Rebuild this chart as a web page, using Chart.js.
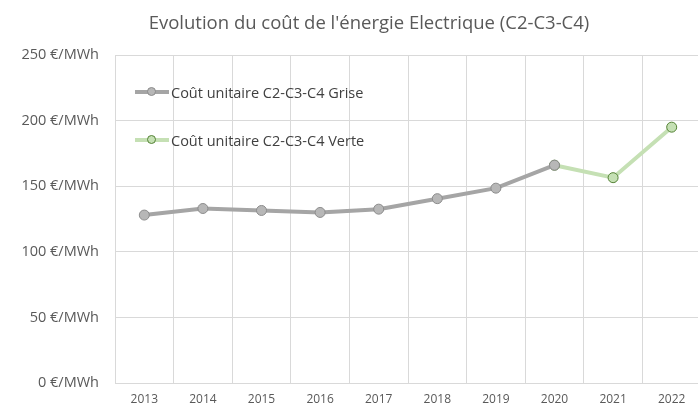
<!DOCTYPE html>
<html>
<head>
<meta charset="utf-8">
<script src="https://cdn.jsdelivr.net/npm/chart.js@4.4.0/dist/chart.umd.min.js"></script>
<style>
  html, body { margin: 0; padding: 0; background: #fff; }
  #wrap { position: relative; width: 698px; height: 409px; overflow: hidden; }
  #title { position: absolute; left: 0; top: 9px; width: 738px; text-align: center; font-family: "Open Sans", sans-serif; font-size: 18.5px; color: #595959; white-space: nowrap; }
  #legend { position: absolute; left: 135px; top: 80px; font-family: "Open Sans", sans-serif; font-size: 14.5px; color: #404040; }
  .item { display: flex; align-items: center; height: 24px; margin-bottom: 24px; }
  .sym { position: relative; width: 34px; height: 14px; margin-right: 2px; }
  .sym .ln { position: absolute; left: 0; right: 0; top: 5px; height: 4px; }
  .sym .dot { position: absolute; left: 12px; top: 2px; width: 7px; height: 7px; border-radius: 50%; border: 1.5px solid; }
</style>
</head>
<body>
<div id="wrap">
  <canvas id="c" width="707" height="409"></canvas>
  <div id="title">Evolution du coût de l'énergie Electrique (C2-C3-C4)</div>
  <div id="legend"></div>
</div>
<script>
const years = ['2013', '2014', '2015', '2016', '2017', '2018', '2019', '2020', '2021', '2022'];
const grise = [128, 133, 131.5, 130, 132.5, 140.5, 148.5, 166, null, null];
const verte = [null, null, null, null, null, null, null, 166, 156.5, 195];
const yTicks = [0, 50, 100, 150, 200, 250];

const series = [
  { label: 'Coût unitaire C2-C3-C4 Grise', data: grise, line: '#a5a5a5', fill: '#b7b7b7', edge: '#8c8c8c' },
  { label: 'Coût unitaire C2-C3-C4 Verte', data: verte, line: '#c5e0b4', fill: '#c5e0b4', edge: '#548235' }
];

const legend = document.getElementById('legend');
series.forEach(s => {
  const it = document.createElement('div');
  it.className = 'item';
  it.innerHTML = '<span class="sym"><span class="ln" style="background:' + s.line + '"></span>' +
    '<span class="dot" style="background:' + s.fill + ';border-color:' + s.edge + '"></span></span>' + s.label;
  legend.appendChild(it);
});

const font = "'Open Sans', sans-serif";

new Chart(document.getElementById('c'), {
  type: 'line',
  data: {
    labels: years,
    datasets: series.map(s => ({
      label: s.label,
      data: s.data,
      borderColor: s.line,
      borderWidth: 4,
      pointRadius: 5,
      pointHoverRadius: 5,
      pointBackgroundColor: s.fill,
      pointBorderColor: s.edge,
      pointBorderWidth: 1,
      spanGaps: false,
      tension: 0
    }))
  },
  options: {
    responsive: false,
    animation: false,
    layout: { padding: { left: 0, right: 0, top: 55, bottom: 0 } },
    plugins: {
      legend: { display: false },
      tooltip: { enabled: false },
      title: { display: false }
    },
    scales: {
      x: {
        offset: true,
        grid: { color: '#d9d9d9', offset: true, drawTicks: false },
        border: { display: false },
        ticks: { color: '#595959', font: { family: font, size: 12 }, padding: 9, maxRotation: 0 },
        afterFit: s => { s.height = 26; }
      },
      y: {
        min: 0,
        max: 250,
        afterBuildTicks: s => { s.ticks = yTicks.map(v => ({ value: v })); },
        grid: { color: '#d9d9d9', drawTicks: false },
        border: { display: false },
        ticks: {
          color: '#595959',
          font: { family: font, size: 14.5 },
          padding: 16,
          callback: v => v + ' €/MWh'
        },
        afterFit: s => { s.width = 115; }
      }
    }
  }
});
</script>
</body>
</html>
